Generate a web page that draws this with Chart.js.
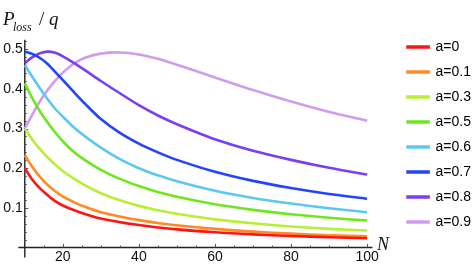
<!DOCTYPE html>
<html>
<head>
<meta charset="utf-8">
<script src="https://cdn.jsdelivr.net/npm/chart.js@4"></script>
<style>
  body { margin: 0; background: #fff; }
  #wrap { width: 473px; height: 268px; position: relative; }
</style>
</head>
<body>
<div id="wrap"><canvas id="chart"></canvas></div>
<script>
const nValues = [10, 12, 14, 16, 18, 20, 23, 26, 30, 35, 40, 45, 50, 60, 70, 80, 90, 100];

const seriesLabels = ['a=0', 'a=0.1', 'a=0.3', 'a=0.5', 'a=0.6', 'a=0.7', 'a=0.8', 'a=0.9'];
const seriesColors = ['#ff1414', '#ff8a24', '#b8ef34', '#6ee81c', '#5cc8ef', '#2244fa', '#7b3ff2', '#cf9cf0'];

const loss_a0  = [0.200, 0.171, 0.149, 0.132, 0.117, 0.106, 0.094, 0.084, 0.073, 0.064, 0.0567, 0.0506, 0.0457, 0.0383, 0.033, 0.029, 0.0258, 0.0233];
const loss_a01 = [0.233, 0.203, 0.178, 0.158, 0.142, 0.129, 0.114, 0.102, 0.089, 0.078, 0.069, 0.062, 0.056, 0.047, 0.040, 0.035, 0.031, 0.028];
const loss_a03 = [0.300, 0.272, 0.248, 0.227, 0.209, 0.193, 0.173, 0.156, 0.137, 0.119, 0.105, 0.094, 0.085, 0.071, 0.061, 0.053, 0.047, 0.043];
const loss_a05 = [0.414, 0.376, 0.343, 0.315, 0.290, 0.268, 0.240, 0.219, 0.196, 0.173, 0.155, 0.140, 0.128, 0.109, 0.095, 0.084, 0.075, 0.068];
const loss_a06 = [0.460, 0.430, 0.401, 0.374, 0.350, 0.330, 0.302, 0.279, 0.252, 0.223, 0.200, 0.182, 0.167, 0.143, 0.125, 0.111, 0.099, 0.089];
const loss_a07 = [0.494, 0.488, 0.478, 0.463, 0.443, 0.422, 0.391, 0.361, 0.324, 0.289, 0.262, 0.240, 0.221, 0.191, 0.168, 0.150, 0.135, 0.123];
const loss_a08 = [0.465, 0.480, 0.490, 0.494, 0.491, 0.482, 0.465, 0.446, 0.420, 0.389, 0.359, 0.333, 0.311, 0.273, 0.244, 0.221, 0.201, 0.184];
const loss_a09 = [0.300, 0.336, 0.369, 0.397, 0.421, 0.441, 0.464, 0.479, 0.489, 0.492, 0.487, 0.476, 0.461, 0.429, 0.397, 0.368, 0.342, 0.320];

const allSeries = [loss_a0, loss_a01, loss_a03, loss_a05, loss_a06, loss_a07, loss_a08, loss_a09];

const xTicks = [20, 40, 60, 80, 100];
const yTicks = [0.1, 0.2, 0.3, 0.4, 0.5];

const datasets = allSeries.map((vals, i) => ({
  label: seriesLabels[i],
  data: vals.map((v, j) => ({ x: nValues[j], y: v })),
  borderColor: seriesColors[i],
  backgroundColor: seriesColors[i],
  borderWidth: 2.6,
  pointRadius: 0,
  fill: false,
  tension: 0.3
}));

// Mathematica style axes, ticks, labels
const axesPlugin = {
  id: 'mmaAxes',
  beforeDatasetsDraw(chart) {
    const ctx = chart.ctx;
    const xs = chart.scales.x, ys = chart.scales.y;
    const x0 = xs.getPixelForValue(10), y0 = ys.getPixelForValue(0);
    ctx.save();
    ctx.strokeStyle = '#222';
    ctx.lineWidth = 1.4;
    ctx.beginPath();
    ctx.moveTo(xs.getPixelForValue(8.3), y0);
    ctx.lineTo(xs.getPixelForValue(101.4), y0);
    ctx.moveTo(x0, ys.getPixelForValue(-0.025));
    ctx.lineTo(x0, ys.getPixelForValue(0.524));
    ctx.stroke();
    ctx.strokeStyle = '#555';
    ctx.lineWidth = 1;
    ctx.beginPath();
    for (let n = 15; n <= 100; n += 5) {
      const px = Math.round(xs.getPixelForValue(n)) + 0.5;
      const len = xTicks.includes(n) ? 3.5 : 2;
      ctx.moveTo(px, y0);
      ctx.lineTo(px, y0 - len);
    }
    for (let k = 1; k <= 26; k++) {
      const v = k * 0.02;
      const py = Math.round(ys.getPixelForValue(v)) + 0.5;
      const len = (k % 5 === 0) ? 3.5 : 2;
      ctx.moveTo(x0, py);
      ctx.lineTo(x0 + len, py);
    }
    ctx.stroke();
    ctx.restore();
  },
  afterDraw(chart) {
    const ctx = chart.ctx;
    const xs = chart.scales.x, ys = chart.scales.y;
    const y0 = ys.getPixelForValue(0);
    ctx.save();
    ctx.fillStyle = '#111';
    ctx.font = '14px "Liberation Sans", Arial, sans-serif';
    ctx.textBaseline = 'middle';
    ctx.textAlign = 'center';
    xTicks.forEach(t => ctx.fillText(String(t), xs.getPixelForValue(t), y0 + 10));
    ctx.textAlign = 'right';
    yTicks.forEach(t => ctx.fillText(t.toFixed(1), xs.getPixelForValue(10) - 2, ys.getPixelForValue(t)));
    // axis labels
    ctx.textAlign = 'left';
    ctx.textBaseline = 'alphabetic';
    ctx.font = 'italic 19px "Liberation Serif", "Times New Roman", serif';
    ctx.fillText('P', 3, 25);
    ctx.font = 'italic 12px "Liberation Serif", "Times New Roman", serif';
    ctx.fillText('loss', 13, 31);
    ctx.font = '19px "Liberation Serif", "Times New Roman", serif';
    ctx.fillText('/', 39, 25);
    ctx.font = 'italic 19px "Liberation Serif", "Times New Roman", serif';
    ctx.fillText('q', 49, 25);
    ctx.font = 'italic 18px "Liberation Serif", "Times New Roman", serif';
    ctx.fillText('N', 377, 250);
    ctx.restore();
  }
};

new Chart(document.getElementById('chart'), {
  type: 'line',
  data: { datasets },
  options: {
    responsive: true,
    maintainAspectRatio: false,
    animation: false,
    layout: { padding: { left: 0, right: -8, top: 29, bottom: 0 } },
    scales: {
      x: { type: 'linear', display: false, min: 3.48, max: 107.75 },
      y: { type: 'linear', display: false, min: -0.0517, max: 0.5511 }
    },
    plugins: {
      legend: {
        position: 'right',
        align: 'start',
        labels: {
          color: '#000',
          font: { size: 14, family: '"Liberation Sans", Arial, sans-serif' },
          boxWidth: 21,
          boxHeight: 1,
          padding: 11
        }
      },
      tooltip: { enabled: false }
    }
  },
  plugins: [axesPlugin]
});
</script>
</body>
</html>
